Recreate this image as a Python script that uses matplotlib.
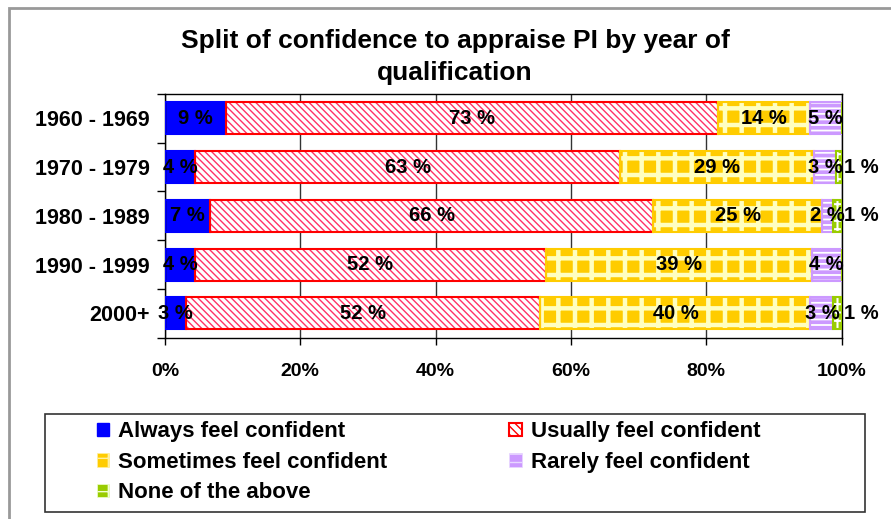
import matplotlib
matplotlib.use("Agg")
import matplotlib.pyplot as plt
from matplotlib.patches import Rectangle, Patch
import numpy as np

plt.rcParams['font.family'] = ['Liberation Sans', 'DejaVu Sans']
plt.rcParams['font.weight'] = 'bold'

categories = ["1960 - 1969", "1970 - 1979", "1980 - 1989", "1990 - 1999", "2000+"]
always = [9.0, 4.4, 6.6, 4.4, 3.1]
usually = [72.7, 62.9, 65.6, 51.9, 52.4]
sometimes = [13.6, 28.6, 24.9, 39.3, 39.9]
rarely = [4.7, 3.3, 1.6, 4.4, 3.4]
none_above = [0.0, 0.8, 1.3, 0.0, 1.2]
series_names = ["Always feel confident", "Usually feel confident", "Sometimes feel confident",
                "Rarely feel confident", "None of the above"]
xticks = [0, 20, 40, 60, 80, 100]
xticklabels = ["0%", "20%", "40%", "60%", "80%", "100%"]
title = "Split of confidence to appraise PI by year of\nqualification"

W, H = 891, 519
fig = plt.figure(figsize=(W / 100, H / 100), dpi=100)
ax = fig.add_axes([165 / W, 1 - 337.7 / H, (841.5 - 165) / W, (337.7 - 94) / H])

y = np.arange(len(categories))
bw = 0.66
series = [always, usually, sometimes, rarely, none_above]
left = np.zeros(len(categories))

styles = [
    dict(face="#0000FF", edge="#0000FF", hatch=None, hcolor=None, hlw=1),
    dict(face="white", edge="#FF0000", hatch="\\\\\\\\\\", hcolor="#FF3366", hlw=1.0),
    dict(face="#FFCC00", edge="#FFCC00", hatch="+", hcolor="#FFFFC0", hlw=3.2),
    dict(face="#CC99FF", edge="#CC99FF", hatch="---", hcolor="white", hlw=1.3),
    dict(face="#99CC00", edge="#99CC00", hatch="++", hcolor="white", hlw=1.5),
]

for vals, st in zip(series, styles):
    vals = np.array(vals)
    ax.barh(y, vals, left=left, height=bw, color=st["face"], edgecolor="none",
            linewidth=0, zorder=2)
    if st["hatch"]:
        bars = ax.barh(y, vals, left=left, height=bw, facecolor="none",
                       edgecolor=st["hcolor"], hatch=st["hatch"], linewidth=0, zorder=3)
        for b in bars:
            try:
                b.set_hatch_linewidth(st["hlw"])
            except Exception:
                pass
    ax.barh(y, vals, left=left, height=bw, facecolor="none", edgecolor=st["edge"],
            linewidth=1.5, zorder=4)
    left = left + vals

# data labels
left = np.zeros(len(categories))
for si, vals in enumerate(series):
    for i, v in enumerate(vals):
        if v <= 0:
            continue
        lab = f"{int(round(v))} %"
        if si == 4:
            ax.text(left[i] + v + 0.3, y[i], lab, ha="left", va="center",
                    fontsize=14.5, fontweight="bold", zorder=6, clip_on=False)
        else:
            ax.text(left[i] + v / 2, y[i], lab, ha="center", va="center",
                    fontsize=14.5, fontweight="bold", zorder=6, clip_on=False)
    left = left + np.array(vals)

ax.set_xlim(0, 100)
ax.set_ylim(len(categories) - 0.5, -0.5)
ax.set_xticks(xticks)
ax.set_xticklabels(xticklabels, fontsize=14, fontweight="bold")
ax.set_yticks(y)
ax.set_yticklabels(categories, fontsize=15.5, fontweight="bold")
ax.set_yticks(np.arange(len(categories) + 1) - 0.5, minor=True)
ax.tick_params(axis="y", which="major", length=0, pad=11)
ax.tick_params(axis="y", which="minor", length=6, width=1, direction="out")
ax.tick_params(axis="x", length=5, width=1, direction="out", pad=13)
ax.xaxis.grid(True, color="#333333", linewidth=1, zorder=0)
ax.set_axisbelow(True)
for s in ax.spines.values():
    s.set_color("black")
    s.set_linewidth(1)

fig.text(455 / W, 1 - 57 / H, title, ha="center", va="center", fontsize=19,
         fontweight="bold", linespacing=1.42)

# outer chart border
fig.patches.append(Rectangle((9 / W, -0.1), 1.2, 1 - 8 / H + 0.1, transform=fig.transFigure,
                             facecolor="none", edgecolor="#999999", linewidth=2))
# legend frame
fig.patches.append(Rectangle((45 / W, 1 - 512 / H), (865 - 45) / W, (512 - 414) / H,
                             transform=fig.transFigure, facecolor="none",
                             edgecolor="#333333", linewidth=1.2))

handles = [
    Patch(facecolor="#0000FF", edgecolor="#0000FF"),
    Patch(facecolor="white", edgecolor="#FF0000", hatch="\\\\\\\\", linewidth=1.5),
    Patch(facecolor="#FFCC00", edgecolor="#FFF0A0", hatch="+", linewidth=0.5),
    Patch(facecolor="#CC99FF", edgecolor="#E8D8FF", hatch="--", linewidth=0.5),
    Patch(facecolor="#99CC00", edgecolor="#F0FFD0", hatch="+", linewidth=0.5),
]
order = [0, 2, 4, 1, 3]
leg = fig.legend([handles[i] for i in order], [series_names[i] for i in order],
                 loc="upper left", bbox_to_anchor=(97 / W, 1 - 421.5 / H), ncol=2,
                 frameon=False, prop=dict(weight="bold", size=16),
                 handlelength=0.55, handleheight=0.55, handletextpad=0.4,
                 labelspacing=0.42, columnspacing=5.5, borderaxespad=0, borderpad=0)

fig.savefig("out.png", dpi=100)
